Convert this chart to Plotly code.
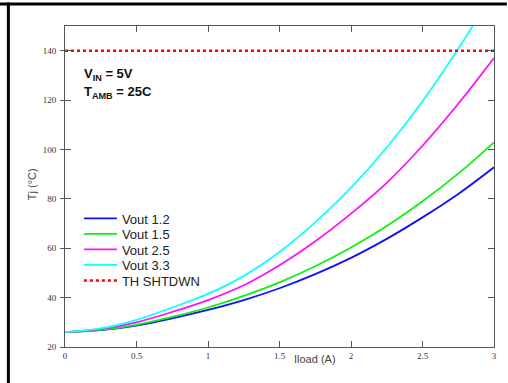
import plotly.graph_objects as go

# load current (A)
iload = [0, 0.25, 0.5, 0.75, 1, 1.25, 1.5, 1.75, 2, 2.25, 2.5, 2.75, 3]

# junction temperature (degC)
tj_12 = [26, 26.8, 28.7, 31.6, 35.0, 39.0, 43.8, 49.5, 56.1, 63.8, 72.5, 82.0, 92.8]
tj_15 = [26, 26.9, 29.0, 32.2, 36.0, 40.7, 46.2, 52.7, 60.3, 69.0, 79.0, 90.2, 102.9]
tj_25 = [26, 27.2, 30.0, 34.2, 39.0, 45.0, 53.1, 62.8, 74.0, 86.5, 101.5, 118.5, 137.0]
tj_33 = [26, 27.5, 31.0, 36.0, 41.5, 48.8, 58.5, 70.5, 84.5, 100.8, 119.5, 140.8, 164.0]

shutdown_x = [0, 3]
shutdown_y = [140, 140]

series = [
    ("Vout 1.2", tj_12, "#1010ff"),
    ("Vout 1.5", tj_15, "#10f010"),
    ("Vout 2.5", tj_25, "#ff10ff"),
    ("Vout 3.3", tj_33, "#10ffff"),
]

# one small legend per entry so rows sit as tight as in the original
legend_rows = ["legend", "legend2", "legend3", "legend4", "legend5"]
row_px = [218.5, 234, 249.5, 265, 280.5]

fig = go.Figure()
for (name, ys, col), lg in zip(series, legend_rows):
    fig.add_trace(go.Scatter(
        x=iload, y=ys, name=name, mode="lines", legend=lg,
        line=dict(color=col, width=1.8, shape="spline"),
    ))
fig.add_trace(go.Scatter(
    x=shutdown_x, y=shutdown_y, name="TH SHTDWN", mode="lines", legend=legend_rows[4],
    line=dict(color="#ff0000", width=2.5, dash="dot"),
))

tick_font = dict(family="Liberation Serif", size=9, color="#333")
frame = "#555"
sans = "Liberation Sans, Arial"

fig.update_layout(
    width=508, height=383,
    margin=dict(l=65, r=11, t=26, b=36),
    paper_bgcolor="white", plot_bgcolor="white",
    font=dict(family=sans, size=12, color="#222"),
    showlegend=True,
    xaxis=dict(
        range=[0, 3], tickvals=[0, 0.5, 1, 1.5, 2, 2.5, 3],
        ticktext=["0", "0.5", "1", "1.5", "2", "2.5", "3"],
        showgrid=False, zeroline=False, showline=True, linecolor=frame, linewidth=1,
        mirror="ticks", ticks="inside", ticklen=6, tickcolor=frame,
        tickfont=tick_font,
    ),
    yaxis=dict(
        range=[20, 150], tickvals=[20, 40, 60, 80, 100, 120, 140],
        showgrid=False, zeroline=False, showline=True, linecolor=frame, linewidth=1,
        mirror="ticks", ticks="inside", ticklen=6, tickcolor=frame,
        tickfont=tick_font, ticklabelstandoff=6,
    ),
    yaxis2=dict(
        range=[20, 150], tickvals=[20, 40, 60, 80, 100, 120, 140],
        overlaying="y", side="left", showticklabels=False, showgrid=False,
        zeroline=False, showline=False, ticks="outside", ticklen=4, tickcolor=frame,
    ),
)

for lg, py in zip(legend_rows, row_px):
    fig.update_layout({lg: dict(
        x=(79 - 65) / 432, y=(347 - py) / 321, xanchor="left", yanchor="middle",
        bgcolor="rgba(0,0,0,0)", borderwidth=0, itemwidth=33,
        font=dict(family=sans, size=13, color="#222"),
    )})

# dummy trace so yaxis2 is drawn
fig.add_trace(go.Scatter(x=[None], y=[None], yaxis="y2", showlegend=False, hoverinfo="skip"))

# axis titles
fig.add_annotation(
    text="Iload (A)", x=0.583, y=-0.062, xref="paper", yref="paper",
    showarrow=False, font=dict(family=sans, size=11, color="#444"),
)
fig.add_annotation(
    text="Tj (°C)", x=-0.095, y=0.508, xref="paper", yref="paper", textangle=-90,
    showarrow=False, font=dict(family=sans, size=11, color="#444"),
)

# conditions
fig.add_annotation(
    text="<b>V<sub>IN</sub> = 5V</b>", x=0.04, y=0.883, xref="paper", yref="paper",
    xanchor="left", showarrow=False, font=dict(family=sans, size=13, color="#111"),
)
fig.add_annotation(
    text="<b>T<sub>AMB</sub> = 25C</b>", x=0.04, y=0.827, xref="paper", yref="paper",
    xanchor="left", showarrow=False, font=dict(family=sans, size=13, color="#111"),
)

# outer frame of the figure (top and left black rules)
fig.add_shape(type="line", xref="paper", yref="paper", x0=-0.16, x1=1.03, y0=1.0685, y1=1.0685,
              line=dict(color="black", width=3))
fig.add_shape(type="line", xref="paper", yref="paper", x0=-0.132, x1=-0.132, y0=1.073, y1=-0.12,
              line=dict(color="black", width=3))

fig.write_html(
    "out.html",
    config={"displayModeBar": False},
    post_script="document.body.style.margin='0';",
)
